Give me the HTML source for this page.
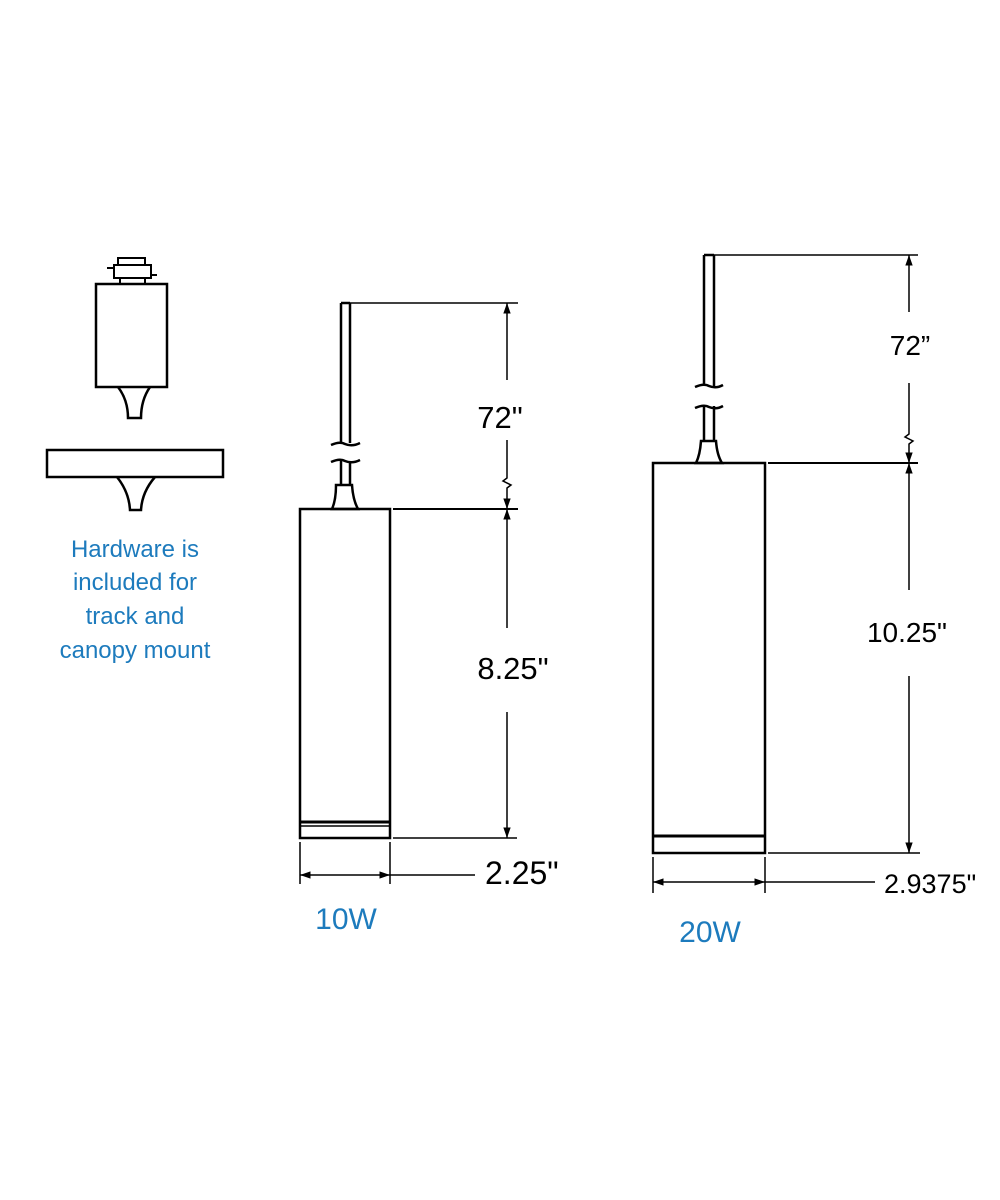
<!DOCTYPE html>
<html><head><meta charset="utf-8"><style>html,body{margin:0;padding:0;background:#fff}svg{display:block}</style></head>
<body>
<svg width="1000" height="1200" viewBox="0 0 1000 1200" xmlns="http://www.w3.org/2000/svg" font-family="Liberation Sans, sans-serif">
<defs>
<marker id="a" viewBox="0 0 10 10" refX="10" refY="5" markerWidth="7" markerHeight="7" orient="auto-start-reverse"><path d="M0,1.5 L10,5 L0,8.5Z" fill="#000"/></marker>
</defs>
<g fill="none" stroke="#000" stroke-width="2.5">
<rect x="118" y="258" width="27" height="7" stroke-width="2"/>
<rect x="114" y="265" width="37" height="13" stroke-width="2"/>
<line x1="107" y1="268" x2="114" y2="268" stroke-width="2"/>
<line x1="151" y1="275" x2="157" y2="275" stroke-width="2"/>
<rect x="120" y="278" width="25" height="6" stroke-width="2"/>
<rect x="96" y="284" width="71" height="103"/>
<path d="M118,387 Q128,400 128,418 L141,418 Q141,400 150,387"/>
<rect x="47" y="450" width="176" height="27"/>
<path d="M117,477 Q129,492 130,510 L141,510 Q142,492 155,477"/>
<line x1="341" y1="303" x2="341" y2="443"/><line x1="350" y1="303" x2="350" y2="443"/>
<line x1="341" y1="303" x2="350" y2="303"/>
<path d="M331,445 Q340,441 345,444 Q352,447 360,443"/>
<path d="M331,462 Q340,458 345,461 Q352,464 360,460"/>
<line x1="341" y1="461" x2="341" y2="485"/><line x1="350" y1="461" x2="350" y2="485"/>
<path d="M336,485 L352,485 Q353,500 358,509 L332,509 Q336,500 336,485Z"/>
<rect x="300" y="509" width="90" height="329"/>
<line x1="300" y1="822" x2="390" y2="822" stroke-width="3"/>
<line x1="300" y1="826" x2="390" y2="826" stroke-width="1.5"/>
<line x1="704" y1="255" x2="704" y2="386"/><line x1="714" y1="255" x2="714" y2="386"/>
<line x1="704" y1="255" x2="714" y2="255"/>
<path d="M695,387 Q704,383 709,386 Q716,389 723,385"/>
<path d="M695,408 Q704,404 709,407 Q716,410 723,406"/>
<line x1="704" y1="406" x2="704" y2="441"/><line x1="714" y1="406" x2="714" y2="441"/>
<path d="M701,441 L716,441 Q717,455 722,463 L696,463 Q700,455 701,441Z"/>
<rect x="653" y="463" width="112" height="390"/>
<line x1="653" y1="836" x2="765" y2="836" stroke-width="3"/>
</g>
<g fill="none" stroke="#000" stroke-width="1.5">
<line x1="350" y1="303" x2="518" y2="303"/>
<line x1="507" y1="303" x2="507" y2="380" marker-start="url(#a)"/>
<path d="M507,440 L507,478 L503,481 L511,485 L507,488 L507,509" marker-end="url(#a)"/>
<line x1="393" y1="509" x2="518" y2="509" stroke-width="2"/>
<line x1="507" y1="509" x2="507" y2="628" marker-start="url(#a)"/>
<line x1="507" y1="712" x2="507" y2="838" marker-end="url(#a)"/>
<line x1="393" y1="838" x2="517" y2="838"/>
<line x1="300" y1="842" x2="300" y2="884"/><line x1="390" y1="842" x2="390" y2="884"/>
<line x1="300" y1="875" x2="390" y2="875" marker-start="url(#a)" marker-end="url(#a)"/>
<line x1="390" y1="875" x2="475" y2="875"/>
<line x1="714" y1="255" x2="918" y2="255"/>
<line x1="909" y1="255" x2="909" y2="312" marker-start="url(#a)"/>
<path d="M909,383 L909,434 L905,437 L913,441 L909,444 L909,463" marker-end="url(#a)"/>
<line x1="768" y1="463" x2="918" y2="463" stroke-width="2"/>
<line x1="909" y1="463" x2="909" y2="590" marker-start="url(#a)"/>
<line x1="909" y1="676" x2="909" y2="853" marker-end="url(#a)"/>
<line x1="768" y1="853" x2="920" y2="853"/>
<line x1="653" y1="857" x2="653" y2="893"/><line x1="765" y1="857" x2="765" y2="893"/>
<line x1="653" y1="882" x2="765" y2="882" marker-start="url(#a)" marker-end="url(#a)"/>
<line x1="765" y1="882" x2="875" y2="882"/>
</g>
<g fill="#000">
<text x="500" y="428" font-size="31" text-anchor="middle">72"</text>
<text x="513" y="679" font-size="31" text-anchor="middle">8.25"</text>
<text x="485" y="884" font-size="32">2.25"</text>
<text x="910" y="355" font-size="28" text-anchor="middle">72”</text>
<text x="907" y="642" font-size="28" text-anchor="middle">10.25"</text>
<text x="884" y="893" font-size="27">2.9375"</text>
</g>
<g fill="#1d7bbd" text-anchor="middle" font-size="24">
<text x="135" y="557">Hardware is</text>
<text x="135" y="590">included for</text>
<text x="135" y="624">track and</text>
<text x="135" y="658">canopy mount</text>
<text x="346" y="929" font-size="30">10W</text>
<text x="710" y="942" font-size="30">20W</text>
</g>
</svg>
</body></html>
